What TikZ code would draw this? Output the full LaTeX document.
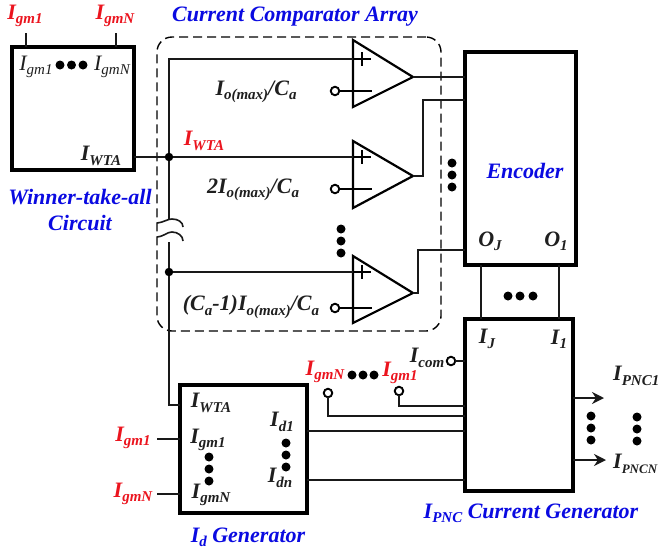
\documentclass[tikz,border=0pt]{standalone}
\usepackage{fontspec}
\setmainfont{Liberation Serif}
\usetikzlibrary{arrows.meta}
\definecolor{lblue}{RGB}{10,10,225}
\definecolor{lred}{RGB}{235,20,30}
\newcommand{\sbs}[1]{\raisebox{-0.2em}{\fontsize{15}{15}\selectfont #1}}
\newcommand{\sbt}[1]{\raisebox{-0.2em}{\fontsize{13}{13}\selectfont #1}}
\tikzset{
  x=1pt,y=-1pt,
  bigbox/.style={draw=black,line width=4.2pt,rectangle,outer sep=0pt,inner sep=0pt,fill=none},
  wire/.style={draw=black!90,line width=1.6pt},
  amp/.style={draw=black,line width=2.2pt,line join=miter},
  sign/.style={draw=black,line width=2.8pt},
  pin/.style={circle,draw=black,line width=1.9pt,fill=white,minimum size=8.5pt,inner sep=0pt,outer sep=0pt},
  blob/.style={circle,fill=black,minimum size=9pt,inner sep=0pt,outer sep=0pt},
  junction/.style={circle,fill=black,minimum size=8.5pt,inner sep=0pt,outer sep=0pt},
  lab/.style={font=\fontsize{22}{24}\selectfont\bfseries\itshape,text=black!88,inner sep=0pt},
  redlab/.style={lab,text=lred},
  bluelab/.style={lab,text=lblue,align=center,font=\fontsize{22}{26}\selectfont\bfseries\itshape},
}
\begin{document}
\begin{tikzpicture}
\useasboundingbox (0,0) rectangle (661,552);
% frame of the comparator array
\node[rectangle,draw=black,line width=1.4pt,dash pattern=on 9pt off 5pt,rounded corners=15pt,minimum width=284pt,minimum height=294pt,outer sep=0pt] (array) at (299,184) {};
% blocks
\node[bigbox,minimum width=122pt,minimum height=123pt] (wta) at (73,108.5) {};
\node[bigbox,minimum width=111pt,minimum height=213pt] (enc) at (520.5,158.5) {};
\node[bigbox,minimum width=108pt,minimum height=172pt] (pnc) at (519,405) {};
\node[bigbox,minimum width=127pt,minimum height=128pt] (idg) at (243.5,449) {};
% comparators
\foreach \n/\t/\a/\p/\m in {1/40/77/59/91, 2/141/176/157/189, 3/256/293/272/308}{
  \coordinate (plus\n) at (353,\p);
  \coordinate (out\n) at (413,\a);
  \draw[amp] (353,\t) -- (out\n) -- (353,\t+67) -- cycle;
  \draw[sign] (353,\p) -- ++(18,0) (362,\p-7) -- (362,\p+7);
  \node[pin] (ref\n) at (335,\m) {};
  \draw[amp] (ref\n) -- (353,\m);
  \draw[sign] (353,\m) -- (372,\m);
}
% junctions and WTA net
\node[junction] (j1) at (169,157) {};
\node[junction] (j2) at (169,272) {};
\coordinate (brk1) at (169,219);
\coordinate (brk2) at (169,242);
\draw[wire] (wta.east |- j1) -- (j1) -- (plus2);
\draw[wire] (plus1) -- (169,59) -- (j1) -- (brk1);
\draw[wire] (brk2) -- (j2) -- (plus3);
\draw[wire] (j2) -- (169,405) -- (idg.west |- 0,405);
% line break symbol
\draw[wire] (157,223) .. controls (165,222) and (167,219) .. (172,219) .. controls (178,219) and (183,222) .. (183,227);
\draw[wire] (157,237) .. controls (165,236) and (167,232) .. (172,232) .. controls (178,232) and (183,236) .. (183,241);
% WTA inputs
\coordinate (tin1) at (26,33);
\coordinate (tinN) at (116,33);
\draw[wire,line width=1.8pt] (tin1) -- (tin1 |- wta.north);
\draw[wire,line width=1.8pt] (tinN) -- (tinN |- wta.north);
% comparator outputs
\draw[wire] (out1) -- (enc.west |- out1);
\draw[wire] (out2) -- (423,176) -- (423,100) -- (enc.west |- 0,100);
\draw[wire] (out3) -- (418,293) -- (418,250) -- (enc.west |- 0,250);
% encoder to generator
\draw[wire] (481,265) -- (481,319);
\draw[wire] (559,265) -- (559,319);
% inputs of the PNC generator
\node[pin] (pcom) at (451,361) {};
\node[pin] (pN) at (328,393) {};
\node[pin] (p1) at (399,391) {};
\draw[wire] (pcom) -- (pnc.west |- pcom);
\draw[wire] (pN) -- (328,416) -- (pnc.west |- 0,416);
\draw[wire] (p1) -- (399,406) -- (pnc.west |- 0,406);
\draw[wire] (idg.east |- 0,431) -- (pnc.west |- 0,431);
\draw[wire] (idg.east |- 0,480) -- (pnc.west |- 0,480);
\coordinate (s1) at (157,439);
\coordinate (sN) at (157,494);
\draw[wire] (s1) -- (idg.west |- s1);
\draw[wire] (sN) -- (idg.west |- sN);
% outputs
\coordinate (o1) at (604,398);
\coordinate (oN) at (606,460);
\draw[wire,-{Stealth[length=12pt,width=12pt]}] (pnc.east |- o1) -- (o1);
\draw[wire,-{Stealth[length=12pt,width=12pt]}] (pnc.east |- oN) -- (oN);
% ellipsis dots
\foreach \i/\x/\y in {a/60/65,b/71.5/65,c/83/65, d/341/229,e/341/241,f/341/253, g/452/163,h/452/175,i/452/187,
  j/508/296,k/520/296,l/533/296, m/591/416,n/591/428,o/591/440, p/637/417,q/637/429,r/637/441,
  s/209/457,t/209/469,u/209/481, v/286/443,w/286/455,z/286/467, aa/352/375,ab/363/375,ac/374/375}
  \node[blob] (dot\i) at (\x,\y) {};
% labels
\node[redlab] (t1) at (25,16) {I\sbs{gm1}};
\node[redlab] (t2) at (115,16) {I\sbs{gmN}};
\node[lab] (t3) at (36,67) {\mdseries I\sbs{gm1}};
\node[lab] (t4) at (112,67) {\mdseries I\sbs{gmN}};
\node[lab] (t5) at (101,156) {I\sbs{WTA}};
\node[bluelab] (t6) at (80,210) {Winner-take-all\\Circuit};
\node[bluelab] (t7) at (295,17) {Current Comparator Array};
\node[lab] (t8) at (256,92) {I\sbs{o(max)}/C\sbs{a}};
\node[lab] (t9) at (253,190) {2I\sbs{o(max)}/C\sbs{a}};
\node[lab] (t10) at (251,307) {(C\sbs{a}-1)I\sbs{o(max)}/C\sbs{a}};
\node[redlab] (t11) at (204,141) {I\sbs{WTA}};
\node[bluelab] (t12) at (525,171) {Encoder};
\node[lab] (t13) at (490,241) {O\sbs{J}};
\node[lab] (t14) at (556,241) {O\sbs{1}};
\node[lab] (t15) at (487,339) {I\sbs{J}};
\node[lab] (t16) at (559,339) {I\sbs{1}};
\node[lab] (t17) at (427,358) {I\sbs{com}};
\node[redlab] (t18) at (325,372) {I\sbs{gmN}};
\node[redlab] (t19) at (400,373) {I\sbs{gm1}};
\node[lab] (t20) at (211,403) {I\sbs{WTA}};
\node[lab] (t21) at (208,440) {I\sbs{gm1}};
\node[lab] (t22) at (211,495) {I\sbs{gmN}};
\node[lab] (t23) at (282,422) {I\sbs{d1}};
\node[lab] (t24) at (280,478) {I\sbs{dn}};
\node[redlab] (t25) at (133,438) {I\sbs{gm1}};
\node[redlab] (t26) at (133,494) {I\sbs{gmN}};
\node[bluelab] (t27) at (248,537) {I\sbs{d} Generator};
\node[bluelab] (t28) at (531,513) {I\sbs{PNC} Current Generator};
\node[lab,anchor=west] (t29) at (613,376) {I\sbs{PNC1}};
\node[lab,anchor=west] (t30) at (613,464) {I\sbt{PNCN}};
\end{tikzpicture}
\end{document}
